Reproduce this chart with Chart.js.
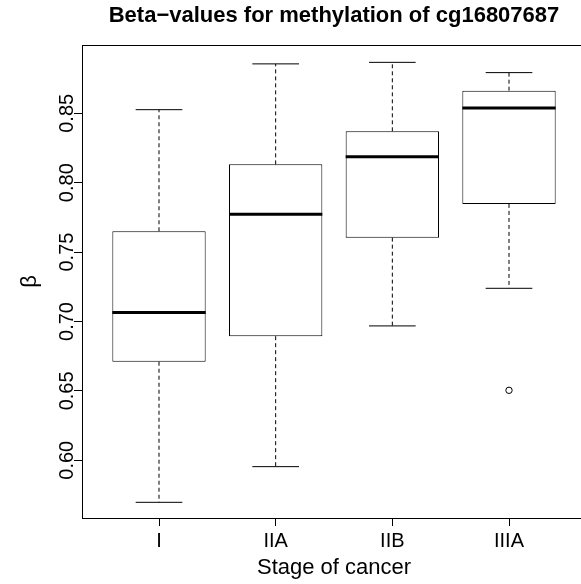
<!DOCTYPE html>
<html><head><meta charset="utf-8">
<script src="https://cdn.jsdelivr.net/npm/chart.js@4.4.0/dist/chart.umd.min.js"></script>
<style>
html,body{margin:0;padding:0;background:#fff;overflow:hidden;width:581px;height:584px}
#clip{position:relative;width:581px;height:584px;overflow:hidden}
canvas{display:block;position:absolute;left:0;top:0}
</style></head>
<body><div id="clip"><canvas id="c" width="586" height="584"></canvas></div>
<script>
const categories = ['I', 'IIA', 'IIB', 'IIIA'];
const whiskerLow  = [0.5697, 0.5954, 0.6968, 0.7239];
const quartile1   = [0.6710, 0.6894, 0.7604, 0.7847];
const medians     = [0.7064, 0.7772, 0.8187, 0.8538];
const quartile3   = [0.7650, 0.8132, 0.8370, 0.8663];
const whiskerHigh = [0.8526, 0.8856, 0.8867, 0.8793];
const outlierCategory = ['IIIA'];
const outlierValue    = [0.6504];
const yTicks      = [0.60, 0.65, 0.70, 0.75, 0.80, 0.85];
const yTickLabels = ['0.60', '0.65', '0.70', '0.75', '0.80', '0.85'];

const FAMILY = '"Liberation Sans", Arial, Helvetica, sans-serif';
const BOX_HALF = 0.4, CAP_HALF = 0.2;

const pos = categories.map((c, i) => i + 1);
const medianData = [], whiskerData = [], capData = [];
pos.forEach((p, i) => {
  medianData.push({x: p - BOX_HALF, y: medians[i]}, {x: p + BOX_HALF, y: medians[i]}, {x: p, y: null});
  whiskerData.push({x: p, y: quartile3[i]}, {x: p, y: whiskerHigh[i]}, {x: p, y: null},
                   {x: p, y: quartile1[i]}, {x: p, y: whiskerLow[i]}, {x: p, y: null});
  capData.push({x: p - CAP_HALF, y: whiskerHigh[i]}, {x: p + CAP_HALF, y: whiskerHigh[i]}, {x: p, y: null},
               {x: p - CAP_HALF, y: whiskerLow[i]}, {x: p + CAP_HALF, y: whiskerLow[i]}, {x: p, y: null});
});

const rPlot = {
  id: 'rPlot',
  afterDraw(chart) {
    const {ctx, chartArea, scales: {y}} = chart;
    ctx.save();
    ctx.strokeStyle = '#000'; ctx.lineWidth = 1;
    ctx.beginPath();
    ctx.moveTo(chartArea.left, Math.round(chartArea.top) + 0.5);
    ctx.lineTo(chartArea.right, Math.round(chartArea.top) + 0.5);
    ctx.stroke();
    ctx.fillStyle = '#000';
    ctx.font = '20px ' + FAMILY;
    ctx.textAlign = 'center';
    ctx.textBaseline = 'alphabetic';
    const lx = chartArea.left - 9.5;
    yTicks.forEach((v, i) => {
      const py = y.getPixelForValue(v);
      ctx.save();
      ctx.translate(lx, py);
      ctx.rotate(-Math.PI / 2);
      ctx.fillText(yTickLabels[i], 0, 0);
      ctx.restore();
    });
    ctx.restore();
  }
};

new Chart(document.getElementById('c'), {
  type: 'line',
  data: {
    datasets: [
      { type: 'bar', data: pos.map((p, i) => ({x: p, y: [quartile1[i], quartile3[i]]})),
        backgroundColor: '#fff', borderColor: '#000', borderWidth: 1, borderSkipped: false,
        barPercentage: 0.8, categoryPercentage: 1, order: 3 },
      { type: 'line', data: whiskerData, borderColor: '#000', borderWidth: 1, borderDash: [4, 3],
        pointRadius: 0, spanGaps: false, fill: false, order: 2 },
      { type: 'line', data: capData, borderColor: '#000', borderWidth: 1,
        pointRadius: 0, spanGaps: false, fill: false, order: 2 },
      { type: 'line', data: medianData, borderColor: '#000', borderWidth: 3, borderCapStyle: 'butt',
        pointRadius: 0, spanGaps: false, fill: false, order: 1 },
      { type: 'scatter', data: outlierCategory.map((c, i) => ({x: categories.indexOf(c) + 1, y: outlierValue[i]})),
        pointRadius: 3.2, pointBackgroundColor: '#fff', pointBorderColor: '#000', pointBorderWidth: 1,
        showLine: false, order: 0 }
    ]
  },
  options: {
    responsive: false,
    animation: false,
    devicePixelRatio: 1,
    layout: { padding: 0, autoPadding: false },
    plugins: {
      legend: { display: false },
      tooltip: { enabled: false },
      title: {
        display: true, fullSize: false,
        text: 'Beta\u2212values for methylation of cg16807687',
        font: { family: FAMILY, size: 22, weight: 'bold' }, color: '#000',
        padding: { top: 3, bottom: 15.6 }
      }
    },
    scales: {
      x: {
        type: 'linear', min: 0.34, max: 4.66, offset: false,
        afterBuildTicks: s => { s.ticks = pos.map(p => ({value: p})); },
        ticks: { callback: (v, i) => categories[i], font: { family: FAMILY, size: 20 }, color: '#000',
                 padding: 3, autoSkip: false, maxRotation: 0, minRotation: 0 },
        grid: { drawOnChartArea: false, drawTicks: true, tickLength: 8, color: '#000', offset: false },
        border: { display: true, color: '#000', width: 1 },
        title: { display: true, text: 'Stage of cancer', font: { family: FAMILY, size: 22 }, color: '#000',
                 padding: { top: 0, bottom: 3 } },
        afterFit: s => { s.height = 66; }
      },
      y: {
        type: 'linear', min: 0.5584, max: 0.8992,
        afterBuildTicks: s => { s.ticks = yTicks.map(v => ({value: v})); },
        ticks: { display: false },
        grid: { drawOnChartArea: false, drawTicks: true, tickLength: 8, color: '#000' },
        border: { display: true, color: '#000', width: 1 },
        title: { display: true, text: '\u03b2', font: { family: FAMILY, size: 22 }, color: '#000',
                 padding: { top: 17, bottom: 0 } },
        afterFit: s => { s.width = 82; }
      }
    }
  },
  plugins: [rPlot]
});
</script>
</body></html>
